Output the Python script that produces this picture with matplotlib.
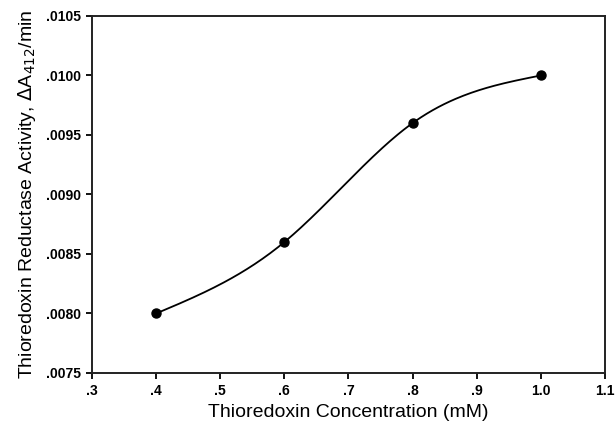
import numpy as np
import matplotlib
matplotlib.use("Agg")
import matplotlib.pyplot as plt
from matplotlib.ticker import FuncFormatter

conc = [0.4, 0.6, 0.8, 1.0]
activity = [0.0080, 0.0086, 0.0096, 0.0100]
xticks = [0.3, 0.4, 0.5, 0.6, 0.7, 0.8, 0.9, 1.0, 1.1]
yticks = [0.0075, 0.0080, 0.0085, 0.0090, 0.0095, 0.0100, 0.0105]

plt.rcParams["font.family"] = ["Liberation Sans", "DejaVu Sans"]


def natural_spline(x, y, xs):
    # smooth line through the points, like the original plotting program
    x = np.asarray(x, float); y = np.asarray(y, float)
    n = len(x)
    h = np.diff(x)
    A = np.zeros((n, n)); b = np.zeros(n)
    A[0, 0] = A[-1, -1] = 1.0
    for i in range(1, n - 1):
        A[i, i - 1] = h[i - 1]
        A[i, i] = 2 * (h[i - 1] + h[i])
        A[i, i + 1] = h[i]
        b[i] = 6 * ((y[i + 1] - y[i]) / h[i] - (y[i] - y[i - 1]) / h[i - 1])
    M = np.linalg.solve(A, b)
    idx = np.clip(np.searchsorted(x, xs) - 1, 0, n - 2)
    x0, x1 = x[idx], x[idx + 1]
    hh = x1 - x0
    t0, t1 = x1 - xs, xs - x0
    return (M[idx] * t0**3 / (6 * hh) + M[idx + 1] * t1**3 / (6 * hh)
            + (y[idx] / hh - M[idx] * hh / 6) * t0
            + (y[idx + 1] / hh - M[idx + 1] * hh / 6) * t1)


fig = plt.figure(figsize=(6.15, 4.25), dpi=100)
ax = fig.add_axes([0.1496, 0.1224, 0.834, 0.840])

xs = np.linspace(conc[0], conc[-1], 200)
ax.plot(xs, natural_spline(conc, activity, xs), color="black", lw=1.3)
ax.plot(conc, activity, "o", color="black", ms=6.5)

ax.set_xlim(0.3, 1.1)
ax.set_ylim(0.0075, 0.0105)
ax.set_xticks(xticks)
ax.set_yticks(yticks)
ax.xaxis.set_major_formatter(FuncFormatter(lambda v, p: f"{v:.1f}".lstrip("0")))
ax.yaxis.set_major_formatter(FuncFormatter(lambda v, p: f"{v:.4f}".lstrip("0")))
ax.tick_params(direction="out", length=4, width=1.3, labelsize=10, pad=4,
               top=False, right=False)
for lab in ax.get_xticklabels() + ax.get_yticklabels():
    lab.set_fontweight("bold")
for s in ax.spines.values():
    s.set_linewidth(1.4)
    s.set_color("#222222")

ax.set_xlabel("Thioredoxin Concentration (mM)", fontsize=14, labelpad=4)
ax.set_ylabel(r"Thioredoxin Reductase Activity, $\Delta$A$_{412}$/min", fontsize=14, labelpad=6)

fig.savefig("out.png", dpi=100)
